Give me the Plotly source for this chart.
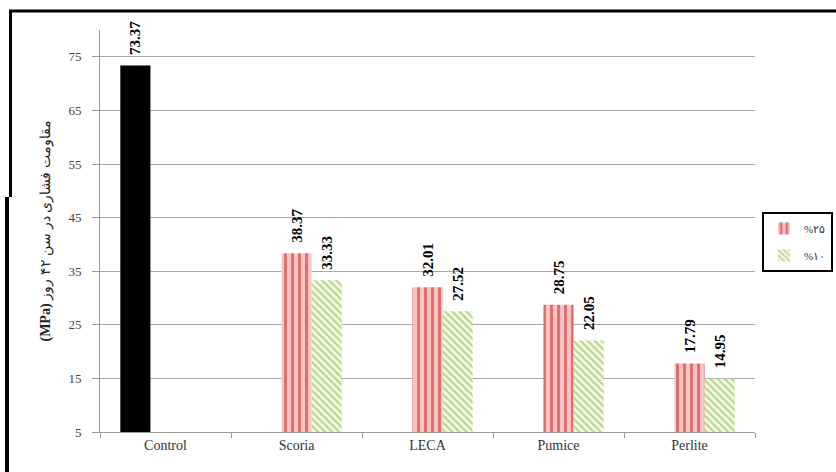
import plotly.graph_objects as go

# Compressive strength data (MPa)
categories = ["Control", "Scoria", "LECA", "Pumice", "Perlite"]
control_cat = ["Control"]
control_val = [73.37]
agg_cats = ["Scoria", "LECA", "Pumice", "Perlite"]
val_25 = [38.37, 32.01, 28.75, 17.79]
val_10 = [33.33, 27.52, 22.05, 14.95]
y_ticks = [5, 15, 25, 35, 45, 55, 65, 75]

name_25 = "%۲۵"
name_10 = "%۱۰"
y_title = "<b>(MPa)</b> مقاومت فشاری در سن ۴۲ روز"

SERIF = "Liberation Serif"
label_font = dict(family=SERIF, size=15, color="black", weight="bold")

W, H = 836, 472
L, R, T, B = 100, 81, 30, 40
pw, ph = W - L - R, H - T - B


def px_x(x):
    return (x - L) / pw


def px_y(y):
    return (H - B - y) / ph


def labels(vals):
    # small lead-in gap between bar top and its rotated value label
    return ["\u00a0\u00a0" + f"{v:.2f}" for v in vals]


bar_text = dict(textposition="outside", textangle=-90, textfont=label_font,
                cliponaxis=False, constraintext="none")

fig = go.Figure()

fig.add_trace(go.Bar(
    x=control_cat, y=control_val, name="Control", showlegend=False,
    marker=dict(color="black", line=dict(width=0)),
    text=labels(control_val), **bar_text,
))

fig.add_trace(go.Bar(
    x=agg_cats, y=val_25, name=name_25, legendgroup="a",
    marker=dict(
        color="#f5b8b8", line=dict(width=0),
        pattern=dict(shape="|", fgcolor="#e06a6a", bgcolor="#f7c4c4",
                     size=7, solidity=0.4, fillmode="replace"),
    ),
    text=labels(val_25), **bar_text,
))

fig.add_trace(go.Bar(
    x=agg_cats, y=val_10, name=name_10, legendgroup="b",
    marker=dict(
        color="#f4f9e8", line=dict(width=0),
        pattern=dict(shape="\\", fgcolor="#b9d78c", bgcolor="#f6fbea",
                     size=5, solidity=0.45, fillmode="replace"),
    ),
    text=labels(val_10), **bar_text,
))

# outer frame (top and left edges)
frame_top = px_y(11)
shapes = [
    dict(type="line", xref="paper", yref="paper",
         x0=px_x(9), x1=px_x(840), y0=frame_top, y1=frame_top,
         line=dict(color="black", width=3)),
    dict(type="line", xref="paper", yref="paper",
         x0=px_x(10.5), x1=px_x(10.5), y0=frame_top, y1=px_y(197),
         line=dict(color="black", width=3)),
    dict(type="line", xref="paper", yref="paper",
         x0=px_x(7), x1=px_x(7), y0=px_y(197), y1=px_y(475),
         line=dict(color="black", width=4)),
]

fig.update_layout(
    width=W, height=H,
    margin=dict(l=L, r=R, t=T, b=B, autoexpand=False),
    paper_bgcolor="white", plot_bgcolor="white",
    barmode="group", bargap=0.31, bargroupgap=0,
    font=dict(family=SERIF, size=12, color="#333"),
    showlegend=True,
    legend=dict(
        x=px_x(833), y=px_y(212), xanchor="right", yanchor="top",
        bgcolor="white", bordercolor="black", borderwidth=2,
        font=dict(family=SERIF, size=11, color="#333"),
        tracegroupgap=8, itemwidth=30,
    ),
    shapes=shapes,
)

fig.update_xaxes(
    categoryorder="array", categoryarray=categories,
    showline=True, linecolor="#9a9a9a", linewidth=1,
    ticks="outside", ticklen=5, tickcolor="#9a9a9a", tickson="boundaries",
    showgrid=False,
    tickfont=dict(family=SERIF, size=14, color="#333"),
)

fig.update_yaxes(
    range=[5, 80], tickvals=y_ticks,
    showline=True, linecolor="#9a9a9a", linewidth=1,
    ticks="outside", ticklen=7, tickcolor="#9a9a9a",
    ticklabelstandoff=8,
    showgrid=True, gridcolor="#a8a8a8", gridwidth=1,
    zeroline=False,
    tickfont=dict(family=SERIF, size=13, color="#444"),
    title=dict(text=y_title, font=dict(family=SERIF, size=14, color="#222"),
               standoff=14),
)

fig.write_html("out.html")
